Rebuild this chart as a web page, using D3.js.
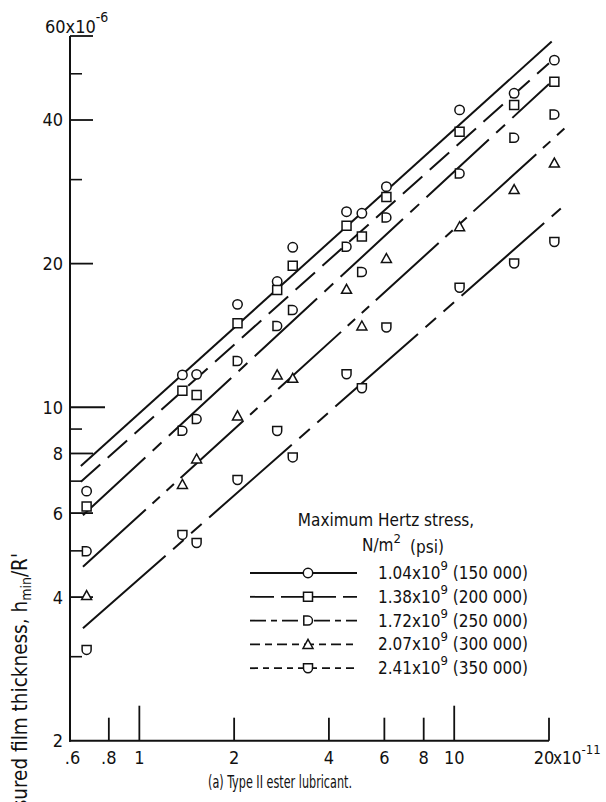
<!DOCTYPE html>
<html>
<head>
<meta charset="utf-8">
<script src="https://cdn.jsdelivr.net/npm/d3@7"></script>
<style>
  body { margin: 0; background: #fff; }
  text { font-family: "DejaVu Sans Condensed", "DejaVu Sans", sans-serif; font-stretch: condensed; fill: #111; }
</style>
</head>
<body>
<svg id="chart" width="606" height="802"></svg>
<script>
// rolling speed parameter (x10^-11), same for every load
const xValues = [0.68, 1.37, 1.52, 2.05, 2.74, 3.07, 4.55, 5.09, 6.09, 10.4, 15.5, 20.8];

// measured film thickness h_min/R' (x10^-6) per max Hertz stress
const h150 = [6.67, 11.69, 11.72, 16.43, 18.34, 21.64, 25.7, 25.5, 29.0, 42.0, 45.5, 53.4];
const h200 = [6.19, 10.83, 10.61, 14.99, 17.6, 19.8, 24.0, 22.8, 27.6, 37.8, 43.0, 48.1];
const h250 = [4.99, 8.93, 9.45, 12.5, 14.8, 15.98, 21.7, 19.2, 25.0, 30.9, 36.7, 41.1];
const h300 = [4.03, 6.89, 7.79, 9.59, 11.69, 11.5, 17.67, 14.8, 20.5, 23.9, 28.6, 32.5];
const h350 = [3.10, 5.40, 5.19, 7.04, 8.92, 7.85, 11.72, 10.96, 14.7, 17.8, 20.0, 22.2];

// fitted lines, [x, h] at each end
const fit150 = [[0.652, 7.53], [20.4, 58.4]];
const fit200 = [[0.652, 6.98], [20.0, 52.6]];
const fit250 = [[0.662, 5.94], [20.0, 47.6]];
const fit300 = [[0.662, 4.63], [22.6, 38.6]];
const fit350 = [[0.662, 3.44], [21.8, 26.1]];

const stressSI = ["1.04", "1.38", "1.72", "2.07", "2.41"];
const stressPsi = ["150 000", "200 000", "250 000", "300 000", "350 000"];

const xTickValues = [0.6, 0.8, 1, 2, 4, 6, 8, 10, 20];
const xTickLabels = [".6", ".8", "1", "2", "4", "6", "8", "10", "20"];
const yTickValues = [2, 4, 6, 8, 10, 20, 40, 60];
const yMinorTicks = [3, 5, 7, 9, 30, 50];

const svg = d3.select("#chart");

const x = d3.scaleLog().domain([0.6, 20]).range([69.5, 549]);
const y = d3.scaleLog().domain([2, 60]).range([740.7, 36]);
const axisX = 70;

const series = [
  { vals: h150, fit: fit150, shape: "circle",   dash: null,                  legDash: null },
  { vals: h200, fit: fit200, shape: "square",   dash: "26,10",               legDash: "24,7" },
  { vals: h250, fit: fit250, shape: "dee",      dash: "85,10,12,10",         legDash: "16,5,6,5" },
  { vals: h300, fit: fit300, shape: "triangle", dash: "85,9,10,9,10,9",      legDash: "10,5,7,5" },
  { vals: h350, fit: fit350, shape: "shield",   dash: "110,10,14,10,14,10",  legDash: "8,5,6,5" }
];

function markerPath(shape) {
  if (shape === "circle") return d3.symbol(d3.symbolCircle, 70)();
  if (shape === "square") return "M-4.5,-4.5H4.5V4.5H-4.5Z";
  if (shape === "triangle") return "M0,-5L5,4H-5Z";
  if (shape === "dee") return "M-4.2,-4.5H0A4.5,4.5 0 0 1 0,4.5H-4.2Z";
  return "M-4.5,-4.5H4.5V0A4.5,4.5 0 0 1 -4.5,0Z"; // shield
}

// axes
svg.append("line").attr("x1", axisX).attr("x2", axisX)
  .attr("y1", y(60)).attr("y2", y(2) + 1)
  .attr("stroke", "#111").attr("stroke-width", 2);
svg.append("line").attr("x1", axisX - 1).attr("x2", x(20))
  .attr("y1", y(2)).attr("y2", y(2))
  .attr("stroke", "#111").attr("stroke-width", 2);

// y ticks (drawn inward)
yTickValues.filter(v => v !== 2).forEach(v => {
  const len = v === 10 ? 35 : 23;
  svg.append("line").attr("x1", axisX).attr("x2", axisX + len)
    .attr("y1", y(v)).attr("y2", y(v))
    .attr("stroke", "#111").attr("stroke-width", 1.8);
});
yMinorTicks.forEach(v => {
  svg.append("line").attr("x1", axisX).attr("x2", axisX + 12)
    .attr("y1", y(v)).attr("y2", y(v))
    .attr("stroke", "#111").attr("stroke-width", 1.6);
});
yTickValues.filter(v => v !== 60).forEach(v => {
  svg.append("text").attr("x", 63).attr("y", y(v)).attr("dy", "0.36em")
    .attr("text-anchor", "end").attr("font-size", 18).text(v);
});
const topLab = svg.append("text").attr("x", 45).attr("y", 33).attr("font-size", 18);
topLab.append("tspan").text("60x10");
topLab.append("tspan").attr("dy", -11).attr("font-size", 14).text("-6");

// x ticks
xTickValues.filter(v => v !== 0.6).forEach(v => {
  const len = (v === 1 || v === 10) ? 35 : 23;
  svg.append("line").attr("x1", x(v)).attr("x2", x(v))
    .attr("y1", y(2)).attr("y2", y(2) - len)
    .attr("stroke", "#111").attr("stroke-width", 1.8);
});
xTickValues.forEach((v, i) => {
  const shift = v === 0.6 ? 3 : (v === 20 ? -5 : 0);
  svg.append("text").attr("x", x(v) + shift).attr("y", 764)
    .attr("text-anchor", "middle").attr("font-size", 18).text(xTickLabels[i]);
});
const xSuf = svg.append("text").attr("x", x(20) + 4).attr("y", 764).attr("font-size", 17);
xSuf.append("tspan").text("x10");
xSuf.append("tspan").attr("dy", -10).attr("font-size", 13).text("-11");

// axis titles
svg.append("text")
  .attr("transform", "translate(27,553) rotate(-90)")
  .attr("text-anchor", "end").attr("font-size", 20.5)
  .html("Measured film thickness, h<tspan font-size='14' dy='4'>min</tspan><tspan dy='-4'>/R'</tspan>");
svg.append("text").attr("x", 208).attr("y", 788)
  .attr("font-size", 17.5).attr("textLength", 144).attr("lengthAdjust", "spacingAndGlyphs")
  .text("(a) Type II ester lubricant.");

// fitted lines
const line = d3.line().x(d => x(d[0])).y(d => y(d[1]));
series.forEach(s => {
  svg.append("path").datum(s.fit).attr("d", line)
    .attr("fill", "none").attr("stroke", "#111").attr("stroke-width", 2)
    .attr("stroke-dasharray", s.dash);
});

// data points
series.forEach(s => {
  svg.append("g").selectAll("path").data(s.vals).enter().append("path")
    .attr("transform", (d, i) => "translate(" + x(xValues[i]) + "," + y(d) + ")")
    .attr("d", markerPath(s.shape))
    .attr("fill", "#fff").attr("stroke", "#111").attr("stroke-width", 1.5);
});

// legend
const legTitle = svg.append("g");
legTitle.append("text").attr("x", 386).attr("y", 526).attr("text-anchor", "middle")
  .attr("font-size", 17).text("Maximum Hertz stress,");
const nm = legTitle.append("text").attr("x", 362).attr("y", 551).attr("font-size", 17);
nm.append("tspan").text("N/m");
nm.append("tspan").attr("dy", -8).attr("font-size", 13).text("2");
legTitle.append("text").attr("x", 410).attr("y", 553).attr("font-size", 17).text("(psi)");

series.forEach((s, i) => {
  const ly = 573 + i * 23.8;
  svg.append("line").attr("x1", 250).attr("x2", 357).attr("y1", ly).attr("y2", ly)
    .attr("stroke", "#111").attr("stroke-width", 1.8)
    .attr("stroke-dasharray", s.legDash);
  svg.append("path").attr("transform", "translate(308," + ly + ")")
    .attr("d", markerPath(s.shape))
    .attr("fill", "#fff").attr("stroke", "#111").attr("stroke-width", 1.5);
  const t = svg.append("text").attr("x", 378).attr("y", ly + 6).attr("font-size", 17);
  t.append("tspan").text(stressSI[i] + "x10");
  t.append("tspan").attr("dy", -9).attr("font-size", 13).text("9");
  t.append("tspan").attr("dy", 9).text(" (" + stressPsi[i] + ")");
});
</script>
</body>
</html>
